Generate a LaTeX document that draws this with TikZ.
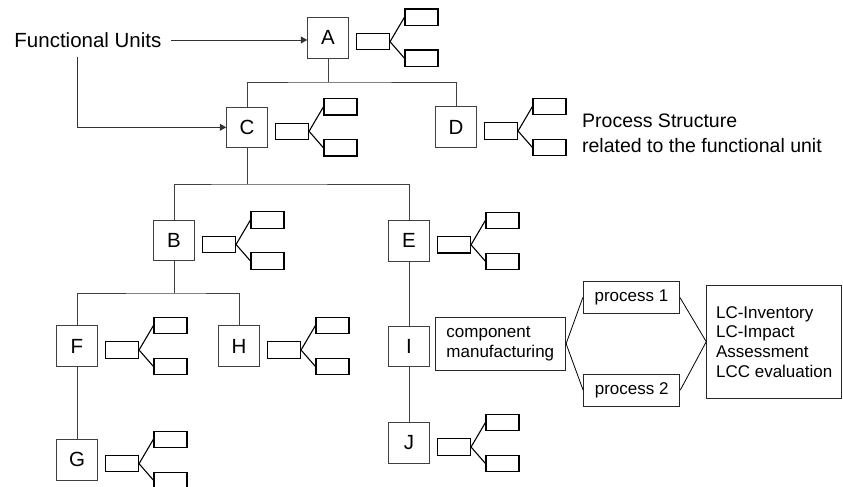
\documentclass[tikz,border=0pt]{standalone}
\usepackage{fontspec}
\setmainfont{Liberation Sans}
\usetikzlibrary{arrows.meta}

\begin{document}
\begin{tikzpicture}[x=1pt, y=-1pt, line width=0.9pt, line join=miter,
  unit/.style={draw=black!75, minimum size=40.6pt, inner sep=0pt, font=\fontsize{20.5}{24}\selectfont},
  subbox/.style={draw=black, line width=1.1pt, minimum width=33pt, minimum height=16.3pt, inner sep=0pt},
  procbox/.style={draw=black!85, inner sep=0pt, align=left, font=\fontsize{17}{19.6}\selectfont},
  lbl/.style={inner sep=0pt, font=\fontsize{19.5}{25}\selectfont},
  bus/.style={draw=black!75},
  twig/.style={draw=black, line width=1.1pt},
  arr/.style={draw=black!80, -{Triangle[length=6.5pt,width=7pt]}}]

  %% ════ 单元方框 ════
  \node[unit] (A) at (328.0,37.7)  {A};
  \node[unit] (C) at (247.0,127.3) {C};
  \node[unit] (D) at (456.0,127.0) {D};
  \node[unit] (B) at (174.0,240.5) {B};
  \node[unit] (E) at (409.0,240.8) {E};
  \node[unit] (F) at (77.0,346.0)  {F};
  \node[unit] (H) at (239.0,346.0) {H};
  \node[unit] (I) at (409.0,346.3) {I};
  \node[unit] (G) at (77.0,459.7)  {G};
  \node[unit] (J) at (409.0,443.0) {J};

  %% ════ 树干：汇流点 ════
  \coordinate (j1) at (328.0,82.0);
  \coordinate (j2) at (247.0,184.0);
  \coordinate (j3) at (174.0,293.0);
  \draw[bus] (A) -- (j1);
  \draw[bus] (C) |- (j1) -| (D);
  \draw[bus] (C) -- (j2);
  \draw[bus] (B) |- (j2) -| (E);
  \draw[bus] (B) -- (j3);
  \draw[bus] (F) |- (j3) -| (H);
  \draw[bus] (F) -- (G);
  \draw[bus] (E) -- (I);
  \draw[bus] (I) -- (J);

  %% ════ 每个单元右侧的小分叉 ════
  \foreach \n in {A,C,D,B,E,F,H,G,J} {
    \node[subbox] (\n-in) at ([shift={(45,4)}]\n) {};
    \node[subbox] (\n-up) at ([shift={(93.5,-20.5)}]\n) {};
    \node[subbox] (\n-dn) at ([shift={(93.5,20.5)}]\n) {};
    \draw[twig] (\n-in.east) -- (\n-up.west);
    \draw[twig] (\n-in.east) -- (\n-dn.west);
  }

  %% ════ 文字标注 ════
  \node[lbl, anchor=base west, font=\fontsize{20.5}{25}\selectfont] (fu) at (14.0,47.3) {Functional Units};
  \coordinate (fudrop) at (77.3,56.7);
  \draw[arr] ([xshift=9pt]fu.east) -- (fu.east -| A.west);
  \draw[arr] (fudrop) |- (C.west);
  \node[lbl, align=left, anchor=west] (ps) at (581.7,133.7) {Process Structure\\related to the functional unit};

  %% ════ I 的工艺展开 ════
  \node[procbox, minimum width=130.7pt, minimum height=52.7pt] (comp) at (500.3,343.7) {component\\manufacturing};
  \node[procbox, minimum width=96.2pt, minimum height=31.6pt] (p1) at (631.4,297.5) {process 1};
  \node[procbox, minimum width=96.2pt, minimum height=31.6pt] (p2) at (631.7,390.2) {process 2};
  \node[procbox, minimum width=135pt, minimum height=113.3pt, font=\fontsize{17}{19.7}\selectfont] (lc) at (774.2,341.7) {LC-Inventory\\LC-Impact\\Assessment\\LCC evaluation};
  \draw[line width=0.8pt] (comp.east) -- (p1.west);
  \draw[line width=0.8pt] (comp.east) -- (p2.west);
  \draw[line width=0.8pt] (p1.east) -- (lc.west);
  \draw[line width=0.8pt] (p2.east) -- (lc.west);

  % 固定画布
  \pgfresetboundingbox
  \path[use as bounding box] (0,0) rectangle (843,487);
\end{tikzpicture}
\end{document}
